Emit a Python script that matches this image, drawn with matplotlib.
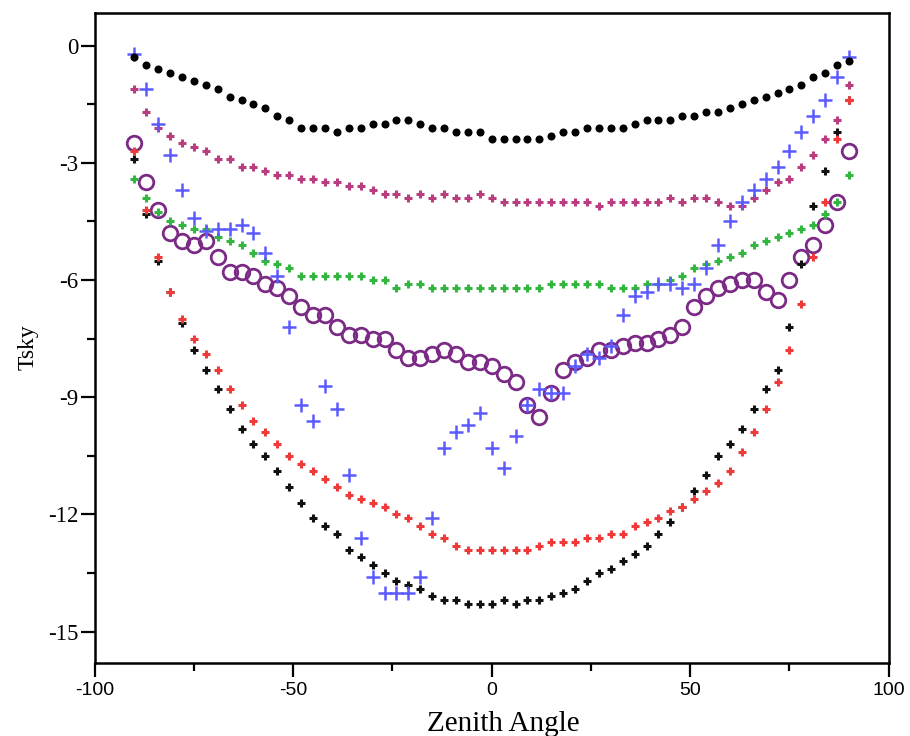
import numpy as np
import matplotlib
matplotlib.use("Agg")
import matplotlib.pyplot as plt
from matplotlib.ticker import MultipleLocator

plt.rcParams['axes.unicode_minus'] = False

# Zenith angles (degrees)
angles = list(range(-90, 91, 3))

# Series values (Tsky)
black_dots = [-0.3, -0.5, -0.6, -0.7, -0.8, -0.9, -1.0, -1.1, -1.3, -1.4, -1.5, -1.6, -1.8, -1.9,
              -2.1, -2.1, -2.1, -2.2, -2.1, -2.1, -2.0, -2.0, -1.9, -1.9, -2.0, -2.1, -2.1, -2.2,
              -2.2, -2.2, -2.4,
              -2.4, -2.4, -2.4, -2.4, -2.3, -2.2, -2.2, -2.1, -2.1, -2.1, -2.1, -2.0, -1.9, -1.9,
              -1.9, -1.8, -1.8, -1.7, -1.7, -1.6, -1.5, -1.4, -1.3, -1.2, -1.1, -1.0, -0.8, -0.7,
              -0.5, -0.4]

magenta_plus = [-1.1, -1.7, -2.1, -2.3, -2.5, -2.6, -2.7, -2.9, -2.9, -3.1, -3.1, -3.2, -3.3, -3.3,
                -3.4, -3.4, -3.5, -3.5, -3.6, -3.6, -3.7, -3.8, -3.8, -3.9, -3.8, -3.9, -3.8, -3.9,
                -3.9, -3.8, -3.9,
                -4.0, -4.0, -4.0, -4.0, -4.0, -4.0, -4.0, -4.0, -4.1, -4.0, -4.0, -4.0, -4.0, -4.0,
                -3.9, -4.0, -3.9, -3.9, -4.0, -4.1, -4.1, -3.9, -3.7, -3.5, -3.4, -3.1, -2.8, -2.4,
                -1.9, -1.0]

green_plus = [-3.4, -3.9, -4.25, -4.5, -4.6, -4.7, -4.7, -4.9, -5.0, -5.1, -5.3, -5.5, -5.6, -5.7,
              -5.9, -5.9, -5.9, -5.9, -5.9, -5.9, -6.0, -6.0, -6.2, -6.1, -6.1, -6.2, -6.2, -6.2,
              -6.2, -6.2, -6.2,
              -6.2, -6.2, -6.2, -6.2, -6.1, -6.1, -6.1, -6.1, -6.1, -6.2, -6.2, -6.2, -6.1, -6.1,
              -6.0, -5.9, -5.7, -5.6, -5.5, -5.4, -5.3, -5.1, -5.0, -4.9, -4.8, -4.7, -4.6, -4.3,
              -4.0, -3.3]

purple_circles = [-2.5, -3.5, -4.2, -4.8, -5.0, -5.1, -5.0, -5.4, -5.8, -5.8, -5.9, -6.1, -6.2, -6.4,
                  -6.7, -6.9, -6.9, -7.2, -7.4, -7.4, -7.5, -7.5, -7.8, -8.0, -8.0, -7.9, -7.8, -7.9,
                  -8.1, -8.1, -8.2,
                  -8.4, -8.6, -9.2, -9.5, -8.9, -8.3, -8.1, -8.0, -7.8, -7.8, -7.7, -7.6, -7.6, -7.5,
                  -7.4, -7.2, -6.7, -6.4, -6.2, -6.1, -6.0, -6.0, -6.3, -6.5, -6.0, -5.4, -5.1, -4.6,
                  -4.0, -2.7]

blue_plus = [-0.2, -1.1, -2.0, -2.8, -3.7, -4.4, -4.75, -4.7, -4.7, -4.6, -4.8, -5.3, -5.9, -7.2,
             -9.2, -9.6, -8.7, -9.3, -11.0, -12.6, -13.6, -14.0, -14.0, -14.0, -13.6, -12.1, -10.3,
             -9.9, -9.7, -9.4, -10.3,
             -10.8, -10.0, -9.2, -8.8, -8.9, -8.9, -8.2, -7.9, -8.0, -7.7, -6.9, -6.4, -6.3, -6.1,
             -6.1, -6.2, -6.1, -5.7, -5.1, -4.5, -4.0, -3.7, -3.4, -3.1, -2.7, -2.2, -1.8, -1.4,
             -0.8, -0.3]

red_plus = [-2.7, -4.2, -5.4, -6.3, -7.0, -7.5, -7.9, -8.3, -8.8, -9.2, -9.6, -9.9, -10.2, -10.5,
            -10.7, -10.9, -11.1, -11.3, -11.5, -11.6, -11.7, -11.8, -12.0, -12.1, -12.3, -12.5,
            -12.6, -12.8, -12.9, -12.9, -12.9,
            -12.9, -12.9, -12.9, -12.8, -12.7, -12.7, -12.7, -12.6, -12.6, -12.5, -12.5, -12.3,
            -12.2, -12.1, -11.9, -11.8, -11.6, -11.4, -11.2, -10.9, -10.4, -9.9, -9.3, -8.6, -7.8,
            -6.6, -5.4, -4.0, -2.4, -1.4]

black_plus = [-2.9, -4.3, -5.5, -6.3, -7.1, -7.8, -8.3, -8.8, -9.3, -9.8, -10.2, -10.5, -10.9, -11.3,
              -11.7, -12.1, -12.3, -12.5, -12.9, -13.1, -13.3, -13.5, -13.7, -13.8, -13.9, -14.1,
              -14.2, -14.2, -14.3, -14.3, -14.3,
              -14.2, -14.3, -14.2, -14.2, -14.1, -14.0, -13.9, -13.7, -13.5, -13.4, -13.2, -13.0,
              -12.8, -12.5, -12.2, -11.8, -11.4, -11.0, -10.5, -10.2, -9.8, -9.3, -8.8, -8.3, -7.2,
              -5.6, -4.1, -3.2, -2.2, -1.4]

x_ticks = [-100, -50, 0, 50, 100]
y_ticks = [0, -3, -6, -9, -12, -15]

fig = plt.figure(figsize=(9.10, 7.36), dpi=100)
ax = fig.add_axes([94.7 / 910, 1 - 662.5 / 736, (888.7 - 94.7) / 910, (662.5 - 13.3) / 736])

ax.plot(angles, purple_circles, linestyle='none', marker='o', ms=10.5, mfc='none',
        mec='#7b2a85', mew=2.0, zorder=2)
ax.plot(angles, black_plus, linestyle='none', marker='+', ms=6, mec='#111111', mew=2.2, zorder=3)
ax.plot(angles, red_plus, linestyle='none', marker='+', ms=6, mec='#f03a3a', mew=2.2, zorder=4)
ax.plot(angles, green_plus, linestyle='none', marker='+', ms=6, mec='#33b640', mew=2.2, zorder=5)
ax.plot(angles, magenta_plus, linestyle='none', marker='+', ms=6, mec='#b83c7e', mew=2.2, zorder=5)
ax.plot(angles, blue_plus, linestyle='none', marker='+', ms=9.5, mec='#5b5bff', mew=1.8, zorder=6)
ax.plot(angles, black_dots, linestyle='none', marker='o', ms=5.8, mfc='black', mec='black',
        mew=0, zorder=7)

ax.set_xlim(-100, 100)
ax.set_ylim(-15.79, 0.83)

ax.set_xticks(x_ticks)
ax.set_xticklabels([str(v) for v in x_ticks],
                   fontfamily=['Liberation Sans Narrow', 'Liberation Sans', 'DejaVu Sans'],
                   fontsize=14)
ax.xaxis.set_minor_locator(MultipleLocator(25))
ax.set_yticks(y_ticks)
ax.set_yticklabels([str(v) for v in y_ticks],
                   fontfamily=['Liberation Serif', 'DejaVu Serif'], fontsize=16.5)
ax.yaxis.set_minor_locator(MultipleLocator(1.5))

ax.tick_params(axis='both', which='major', direction='out', length=10, width=1.6, colors='black')
ax.tick_params(axis='both', which='minor', direction='out', length=5.5, width=1.6)
ax.tick_params(axis='x', which='major', pad=4)
ax.tick_params(axis='y', which='major', pad=2)

for sp in ax.spines.values():
    sp.set_linewidth(1.8)
    sp.set_color('black')

fig.text(503 / 910, 1 - 731 / 736, 'Zenith Angle', ha='center', va='baseline',
         fontfamily=['Liberation Serif', 'DejaVu Serif'], fontsize=21)
fig.text(28 / 910, 1 - 347 / 736, 'Tsky', ha='center', va='center', rotation=90,
         fontfamily=['Liberation Serif', 'DejaVu Serif'], fontsize=17)

fig.savefig('out.png', dpi=100)
